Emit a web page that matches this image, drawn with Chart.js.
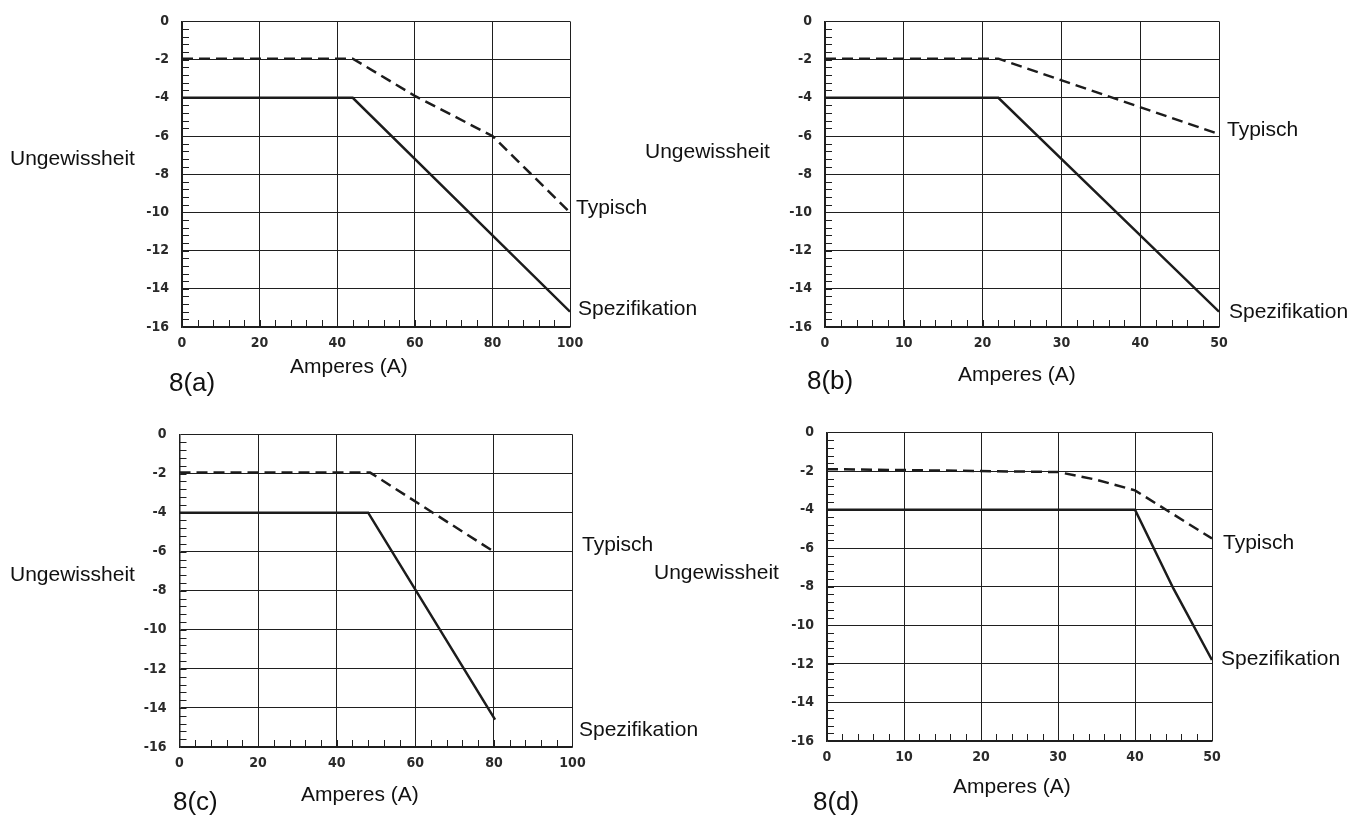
<!DOCTYPE html>
<html>
<head>
<meta charset="utf-8">
<script src="https://cdn.jsdelivr.net/npm/chart.js@4"></script>
<style>
  html, body { margin: 0; padding: 0; background: #fff; }
  #wrap { position: relative; width: 1354px; height: 821px; overflow: hidden; }
  canvas { position: absolute; left: 0; top: 0; }
</style>
</head>
<body>
<div id="wrap">
  <canvas id="c8a" width="1354" height="821"></canvas>
  <canvas id="c8b" width="1354" height="821"></canvas>
  <canvas id="c8c" width="1354" height="821"></canvas>
  <canvas id="c8d" width="1354" height="821"></canvas>
</div>
<script>
// tick labels
const yTicks = [0, -2, -4, -6, -8, -10, -12, -14, -16]
const xTicks100 = [0, 20, 40, 60, 80, 100]
const xTicks50 = [0, 10, 20, 30, 40, 50]

// 8(a)
const ampsATyp = [0, 44, 60, 80, 100]
const uncATyp = [-1.95, -1.95, -3.9, -6, -10]
const ampsASpec = [0, 44, 100]
const uncASpec = [-4, -4, -15.2]

// 8(b)
const ampsBTyp = [0, 22, 50]
const uncBTyp = [-1.95, -1.95, -5.9]
const ampsBSpec = [0, 22, 50]
const uncBSpec = [-4, -4, -15.2]

// 8(c)
const ampsCTyp = [0, 48.5, 80]
const uncCTyp = [-1.95, -1.95, -6]
const ampsCSpec = [0, 48, 80.3]
const uncCSpec = [-4, -4, -14.6]

// 8(d)
const ampsDTyp = [0, 30, 35, 40, 50]
const uncDTyp = [-1.9, -2.05, -2.45, -3, -5.5]
const ampsDSpec = [0, 40, 45, 50]
const uncDSpec = [-4, -4, -8.1, -11.8]

const INK = '#1c1c1c'
const GRID = '#1f1f1f'
const TICK_FONT = { family: "'Liberation Sans Narrow', 'DejaVu Sans Condensed', Arial, sans-serif", size: 14, weight: 'bold' }
const TEXT_FAMILY = "'Liberation Sans', Arial, sans-serif"
const Y_BOX = 60
const X_BOX = 40

function points (xs, ys) {
  return xs.map((x, i) => ({ x, y: ys[i] }))
}

// small inner ticks along the left and bottom frame
const minorTicks = {
  id: 'minorTicks',
  beforeDatasetsDraw (chart, args, opts) {
    const { ctx, chartArea: a, scales: { x, y } } = chart
    ctx.save()
    ctx.strokeStyle = GRID
    ctx.lineWidth = 1
    ctx.beginPath()
    const nx = Math.round((x.max - x.min) / opts.xStep)
    for (let i = 1; i < nx; i++) {
      const px = Math.round(x.getPixelForValue(x.min + i * opts.xStep)) + 0.5
      ctx.moveTo(px, a.bottom)
      ctx.lineTo(px, a.bottom - opts.len)
    }
    const ny = Math.round((y.max - y.min) / opts.yStep)
    for (let i = 1; i < ny; i++) {
      const py = Math.round(y.getPixelForValue(y.max - i * opts.yStep)) + 0.5
      ctx.moveTo(a.left, py)
      ctx.lineTo(a.left + opts.len, py)
    }
    ctx.stroke()
    ctx.restore()
  }
}

// free text: axis names, curve names, panel caption
const notes = {
  id: 'notes',
  afterDraw (chart, args, opts) {
    const ctx = chart.ctx
    ctx.save()
    ctx.fillStyle = '#111'
    ctx.textBaseline = 'middle'
    ctx.textAlign = 'left'
    for (const n of opts.items) {
      ctx.font = n.size + 'px ' + TEXT_FAMILY
      ctx.fillText(n.text, n.x, n.y)
    }
    ctx.restore()
  }
}

function labelsFor (tag, pos) {
  return [
    { text: 'Ungewissheit', x: pos.unc[0], y: pos.unc[1], size: 21 },
    { text: 'Typisch', x: pos.typ[0], y: pos.typ[1], size: 21 },
    { text: 'Spezifikation', x: pos.spec[0], y: pos.spec[1], size: 21 },
    { text: 'Amperes (A)', x: pos.amp[0], y: pos.amp[1], size: 21 },
    { text: '8(' + tag + ')', x: pos.cap[0], y: pos.cap[1], size: 26 }
  ]
}

// plot frame as left/right/top/bottom page pixels
function padFor (l, r, t, b) {
  return { left: l - Y_BOX, right: 1354 - r, top: t, bottom: 821 - b - X_BOX }
}

const panels = [
  {
    id: 'c8a', tag: 'a', xMax: 100, xTicks: xTicks100, xStep: 4,
    typ: points(ampsATyp, uncATyp), spec: points(ampsASpec, uncASpec),
    pad: padFor(182, 570, 17.5, 327),
    pos: { unc: [10, 159], typ: [576, 208], spec: [578, 309], amp: [290, 367], cap: [169, 384] }
  },
  {
    id: 'c8b', tag: 'b', xMax: 50, xTicks: xTicks50, xStep: 2,
    typ: points(ampsBTyp, uncBTyp), spec: points(ampsBSpec, uncBSpec),
    pad: padFor(825, 1219, 14, 327),
    pos: { unc: [645, 152], typ: [1227, 130], spec: [1229, 312], amp: [958, 375], cap: [807, 382] }
  },
  {
    id: 'c8c', tag: 'c', xMax: 100, xTicks: xTicks100, xStep: 4,
    typ: points(ampsCTyp, uncCTyp), spec: points(ampsCSpec, uncCSpec),
    pad: padFor(179.5, 572.5, 434.5, 747),
    pos: { unc: [10, 575], typ: [582, 545], spec: [579, 730], amp: [301, 795], cap: [173, 803] }
  },
  {
    id: 'c8d', tag: 'd', xMax: 50, xTicks: xTicks50, xStep: 2,
    typ: points(ampsDTyp, uncDTyp), spec: points(ampsDSpec, uncDSpec),
    pad: padFor(827, 1212, 432.5, 741),
    pos: { unc: [654, 573], typ: [1223, 543], spec: [1221, 659], amp: [953, 787], cap: [813, 803] }
  }
]

for (const p of panels) {
  new Chart(document.getElementById(p.id), {
    type: 'line',
    data: {
      datasets: [
        {
          label: 'Typisch',
          data: p.typ,
          borderColor: INK,
          borderWidth: 2.5,
          borderDash: [11, 6],
          pointRadius: 0,
          fill: false,
          tension: 0
        },
        {
          label: 'Spezifikation',
          data: p.spec,
          borderColor: INK,
          borderWidth: 2.5,
          pointRadius: 0,
          fill: false,
          tension: 0
        }
      ]
    },
    options: {
      responsive: false,
      animation: false,
      events: [],
      layout: { padding: p.pad },
      plugins: {
        legend: { display: false },
        tooltip: { enabled: false },
        minorTicks: { xStep: p.xStep, yStep: 0.4, len: 7 },
        notes: { items: labelsFor(p.tag, p.pos) }
      },
      scales: {
        x: {
          type: 'linear',
          min: 0,
          max: p.xMax,
          afterBuildTicks: s => { s.ticks = p.xTicks.map(v => ({ value: v })) },
          afterFit: s => { s.height = X_BOX },
          grid: { color: GRID, lineWidth: 1, drawTicks: false },
          border: { color: GRID, width: 1.5 },
          ticks: { font: TICK_FONT, color: '#2a2a2a', padding: 8, maxRotation: 0, autoSkip: false }
        },
        y: {
          type: 'linear',
          min: -16,
          max: 0,
          afterBuildTicks: s => { s.ticks = yTicks.map(v => ({ value: v })) },
          afterFit: s => { s.width = Y_BOX },
          grid: { color: GRID, lineWidth: 1, drawTicks: false },
          border: { color: GRID, width: 1.5 },
          ticks: { font: TICK_FONT, color: '#2a2a2a', padding: 13, autoSkip: false }
        }
      }
    },
    plugins: [minorTicks, notes]
  })
}
</script>
</body>
</html>
